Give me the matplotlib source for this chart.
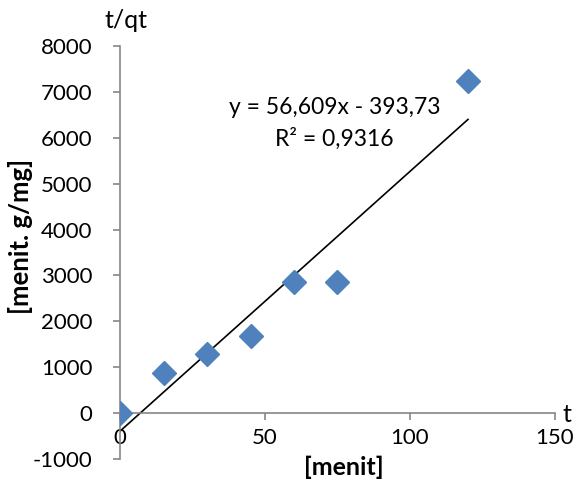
import matplotlib.pyplot as plt
import numpy as np

plt.rcParams['font.family'] = ['Lato', 'DejaVu Sans']
plt.rcParams['axes.unicode_minus'] = False

# data
time_min = [0, 15, 30, 45, 60, 75, 120]
t_over_qt = [0, 880, 1290, 1680, 2860, 2850, 7240]
slope = 56.609
intercept = -393.73
r2_text = "R² = 0,9316"
eq_text = "y = 56,609x - 393,73"

fig = plt.figure(figsize=(5.79, 4.83), dpi=100)
ax = fig.add_axes([0.2073, 0.0497, 0.7512, 0.8551])

ax.plot(time_min, t_over_qt, linestyle='none', marker='D', markersize=12,
        color='#4F81BD', zorder=3)
xfit = np.array([0, max(time_min)])
ax.plot(xfit, slope * xfit + intercept, color='black', lw=1.2, zorder=2)

ax.set_xlim(0, 150)
ax.set_ylim(-1000, 8000)
ax.set_xticks([0, 50, 100, 150])
ax.set_yticks(range(-1000, 8001, 1000))

for s in ['top', 'right']:
    ax.spines[s].set_visible(False)
ax.spines['bottom'].set_position(('data', 0))
for s in ['left', 'bottom']:
    ax.spines[s].set_color('#868686')
    ax.spines[s].set_linewidth(1.2)

ax.tick_params(axis='both', colors='#868686', labelcolor='black',
               labelsize=16, length=5, width=1.2)
ax.tick_params(axis='y', pad=15)
ax.tick_params(axis='x', pad=6)

ax.text(74, 6660, eq_text, fontsize=16.5, ha='center', va='center')
ax.text(74, 5980, r2_text, fontsize=16.5, ha='center', va='center')

fig.text(126 / 579, 1 - 20 / 483, "t/qt", fontsize=18, ha='center', va='center')
fig.text(567 / 579, 1 - 415 / 483, "t", fontsize=18, ha='center', va='center')
fig.text(21 / 579, 1 - 236 / 483, "[menit. g/mg]", fontsize=18.5, fontweight='bold',
         rotation=90, ha='center', va='center')
fig.text(344 / 579, 1 - 467 / 483, "[menit]", fontsize=18, fontweight='bold',
         ha='center', va='center')

fig.savefig('out.png', dpi=100)
